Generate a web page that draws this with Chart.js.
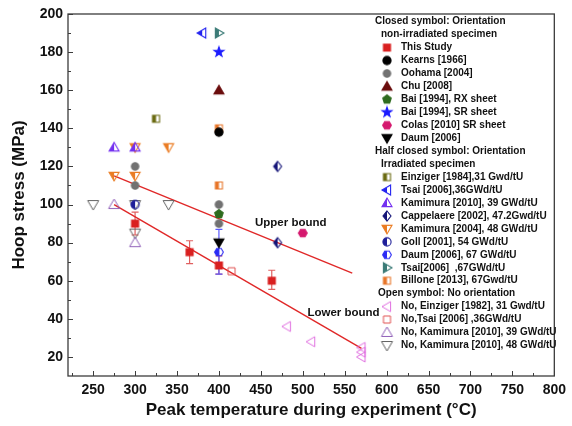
<!DOCTYPE html>
<html>
<head>
<meta charset="utf-8">
<script src="https://cdn.jsdelivr.net/npm/chart.js@4.4.1/dist/chart.umd.min.js"></script>
<style>
  html, body { margin: 0; padding: 0; background: #fff; }
  canvas { display: block; }
</style>
</head>
<body>
<canvas id="hoopChart" width="572" height="426"></canvas>
<script>
// ---- data: [peak temperature (C), hoop stress (MPa)] ----
const xTicks = [250, 300, 350, 400, 450, 500, 550, 600, 650, 700, 750, 800];
const yTicks = [20, 40, 60, 80, 100, 120, 140, 160, 180, 200];

// closed symbols, non-irradiated
const thisStudy = [[300, 90], [365, 75], [400, 68], [463, 60]];
const thisStudyErr = [[84, 96], [69, 81], [63.5, 73], [55.5, 65.5]];
const kearns = [[400, 138]];
const oohama = [[300, 120], [300, 110], [400, 100], [400, 90]];
const chu = [[400, 160]];
const baiRX = [[400, 95]];
const baiSR = [[400, 180]];
const colas = [[500, 85]];
const daum2006 = [[400, 80]];

// half closed symbols, irradiated
const einziger1984 = [[325, 145]];
const tsai36 = [[380, 190]];
const kamimura39 = [[275, 130], [300, 130]];
const cappelaere = [[470, 120], [470, 80]];
const kamimura48 = [[275, 115], [300, 115], [300, 130], [340, 130]];
const goll = [[300, 100]];
const daum67 = [[400, 75]];
const daum67Err = [[63.5, 87]];
const tsai67 = [[400, 190]];
const billone = [[400, 140], [400, 110]];

// open symbols, no orientation
const noEinziger = [[481, 36], [510, 28], [570, 25], [570, 22.5], [570, 20]];
const noTsai = [[415, 65]];
const noKamimura39 = [[275, 100], [300, 80]];
const noKamimura48 = [[250, 100], [300, 100], [340, 100], [300, 85]];

// bounds
const upperBound = [[275, 115], [559, 64]];
const lowerBound = [[275, 100], [570, 24.5]];
const boundLabels = [["Upper bound", 443, 90.5], ["Lower bound", 505.5, 43.2]];

/* -------------------------------
   MARKERS
--------------------------------*/

function shapePath(ctx, shape, cx, cy, r) {
    const poly = (n, start, rad) => {
        for (let i = 0; i < n; i++) {
            const a = start + i * 2 * Math.PI / n;
            const px = cx + rad * Math.cos(a), py = cy + rad * Math.sin(a);
            i ? ctx.lineTo(px, py) : ctx.moveTo(px, py);
        }
        ctx.closePath();
    };
    switch (shape) {
        case "square": ctx.rect(cx - r * 0.78, cy - r * 0.78, r * 1.56, r * 1.56); break;
        case "circle": ctx.arc(cx, cy, r * 0.82, 0, 2 * Math.PI); break;
        case "triUp": ctx.moveTo(cx, cy - r); ctx.lineTo(cx + r, cy + r * 0.72); ctx.lineTo(cx - r, cy + r * 0.72); ctx.closePath(); break;
        case "triDown": ctx.moveTo(cx, cy + r); ctx.lineTo(cx + r, cy - r * 0.72); ctx.lineTo(cx - r, cy - r * 0.72); ctx.closePath(); break;
        case "triLeft": ctx.moveTo(cx - r, cy); ctx.lineTo(cx + r * 0.72, cy - r); ctx.lineTo(cx + r * 0.72, cy + r); ctx.closePath(); break;
        case "triRight": ctx.moveTo(cx + r, cy); ctx.lineTo(cx - r * 0.72, cy - r); ctx.lineTo(cx - r * 0.72, cy + r); ctx.closePath(); break;
        case "diamond": ctx.moveTo(cx, cy - r); ctx.lineTo(cx + r * 0.8, cy); ctx.lineTo(cx, cy + r); ctx.lineTo(cx - r * 0.8, cy); ctx.closePath(); break;
        case "pentagon": poly(5, -Math.PI / 2, r * 0.9); break;
        case "hexagon": poly(6, 0, r * 0.88); break;
        case "star":
            for (let i = 0; i < 10; i++) {
                const a = -Math.PI / 2 + i * Math.PI / 5;
                const rad = i % 2 ? r * 0.42 : r * 1.05;
                const px = cx + rad * Math.cos(a), py = cy + rad * Math.sin(a);
                i ? ctx.lineTo(px, py) : ctx.moveTo(px, py);
            }
            ctx.closePath();
            break;
    }
}

function marker(shape, color, fill, size) {
    const c = document.createElement("canvas");
    c.width = c.height = size + 4;
    const ctx = c.getContext("2d");
    const cx = c.width / 2, cy = c.height / 2, r = size / 2;
    ctx.beginPath();
    shapePath(ctx, shape, cx, cy, r);
    if (fill === "full") {
        ctx.fillStyle = color;
        ctx.fill();
    } else if (fill === "half") {
        ctx.save();
        ctx.clip();
        ctx.fillStyle = color;
        ctx.fillRect(0, 0, cx, c.height);
        ctx.restore();
    }
    ctx.lineWidth = fill === "none" ? 1 : 1.1;
    ctx.strokeStyle = color;
    ctx.stroke();
    return c;
}

const series = [
    { label: "This Study", data: thisStudy, err: thisStudyErr, errColor: "#e06060", m: marker("square", "#d92020", "full", 9) },
    { label: "Kearns [1966]", data: kearns, m: marker("circle", "#000000", "full", 10) },
    { label: "Oohama [2004]", data: oohama, m: marker("circle", "#727272", "full", 9) },
    { label: "Chu [2008]", data: chu, m: marker("triUp", "#6a0c0c", "full", 10) },
    { label: "Bai [1994], RX sheet", data: baiRX, m: marker("pentagon", "#2e6b1e", "full", 10) },
    { label: "Bai [1994], SR sheet", data: baiSR, m: marker("star", "#1c1cff", "full", 10) },
    { label: "Colas [2010] SR sheet", data: colas, m: marker("hexagon", "#d5186e", "full", 10) },
    { label: "Daum [2006]", data: daum2006, m: marker("triDown", "#000000", "full", 10) },
    { label: "Einziger [1984],31 Gwd/tU", data: einziger1984, m: marker("square", "#6b6b12", "half", 9) },
    { label: "Tsai [2006],36GWd/tU", data: tsai36, m: marker("triLeft", "#2323f0", "half", 10) },
    { label: "Kamimura [2010], 39 GWd/tU", data: kamimura39, m: marker("triUp", "#7430f0", "half", 10) },
    { label: "Cappelaere [2002], 47.2Gwd/tU", data: cappelaere, m: marker("diamond", "#141478", "half", 10) },
    { label: "Kamimura [2004], 48 GWd/tU", data: kamimura48, m: marker("triDown", "#ea7d24", "half", 10) },
    { label: "Goll [2001], 54 GWd/tU", data: goll, m: marker("circle", "#1f1f99", "half", 10) },
    { label: "Daum [2006], 67 GWd/tU", data: daum67, err: daum67Err, errColor: "#5a5aff", m: marker("hexagon", "#2b2bf5", "half", 10) },
    { label: "Tsai[2006]  ,67GWd/tU", data: tsai67, m: marker("triRight", "#3b7b77", "half", 10) },
    { label: "Billone [2013], 67Gwd/tU", data: billone, m: marker("square", "#e8762a", "half", 9) },
    { label: "No, Einziger [1982], 31 Gwd/tU", data: noEinziger, m: marker("triLeft", "#e070e0", "none", 10) },
    { label: "No,Tsai [2006] ,36GWd/tU", data: noTsai, m: marker("square", "#e05050", "none", 9) },
    { label: "No, Kamimura [2010], 39 GWd/tU", data: noKamimura39, m: marker("triUp", "#9060b8", "none", 11) },
    { label: "No, Kamimura [2010], 48 GWd/tU", data: noKamimura48, m: marker("triDown", "#606060", "none", 11) }
];

const legendRows = [
    { head: "Closed symbol: Orientation", x: 375 },
    { head: "non-irradiated specimen", x: 381 },
    0, 1, 2, 3, 4, 5, 6, 7,
    { head: "Half closed symbol: Orientation", x: 375 },
    { head: "Irradiated specimen", x: 381 },
    8, 9, 10, 11, 12, 13, 14, 15, 16,
    { head: "Open symbol: No orientation", x: 378 },
    17, 18, 19, 20
];

const toXY = arr => arr.map(p => ({ x: p[0], y: p[1] }));

const datasets = series.map(s => ({
    label: s.label,
    data: toXY(s.data),
    pointStyle: s.m,
    pointRadius: 5,
    showLine: false,
    err: s.err,
    errColor: s.errColor
}));

[upperBound, lowerBound].forEach(b => {
    datasets.push({
        data: toXY(b),
        showLine: true,
        borderColor: "#e02828",
        borderWidth: 1.4,
        pointRadius: 0
    });
});

/* -------------------------------
   PLUGINS
--------------------------------*/

const errorBars = {
    id: "errorBars",
    beforeDatasetsDraw(chart) {
        const ctx = chart.ctx, xs = chart.scales.x, ys = chart.scales.y;
        chart.data.datasets.forEach(ds => {
            if (!ds.err) return;
            ctx.save();
            ctx.strokeStyle = ds.errColor;
            ctx.lineWidth = 1.2;
            ds.data.forEach((p, i) => {
                const px = xs.getPixelForValue(p.x);
                const lo = ys.getPixelForValue(ds.err[i][0]);
                const hi = ys.getPixelForValue(ds.err[i][1]);
                ctx.beginPath();
                ctx.moveTo(px, lo); ctx.lineTo(px, hi);
                ctx.moveTo(px - 3.5, lo); ctx.lineTo(px + 3.5, lo);
                ctx.moveTo(px - 3.5, hi); ctx.lineTo(px + 3.5, hi);
                ctx.stroke();
            });
            ctx.restore();
        });
    }
};

const frame = {
    id: "frame",
    afterDraw(chart) {
        const ctx = chart.ctx, a = chart.chartArea, xs = chart.scales.x, ys = chart.scales.y;
        ctx.save();
        ctx.strokeStyle = "#3c3c3c";
        ctx.lineWidth = 1.3;
        ctx.strokeRect(a.left, a.top, a.right - a.left, a.bottom - a.top);
        ctx.lineWidth = 1;
        ctx.beginPath();
        for (let v = 225; v <= 800; v += 25) {
            const px = Math.round(xs.getPixelForValue(v)) + 0.5;
            const len = v % 50 === 0 ? 5 : 3;
            ctx.moveTo(px, a.bottom); ctx.lineTo(px, a.bottom - len);
        }
        for (let v = 20; v <= 200; v += 10) {
            const py = Math.round(ys.getPixelForValue(v)) + 0.5;
            const len = v % 20 === 0 ? 5 : 3;
            ctx.moveTo(a.left, py); ctx.lineTo(a.left + len, py);
        }
        ctx.stroke();

        // bound labels
        ctx.fillStyle = "#111";
        ctx.font = "bold 11.5px Arial, 'Liberation Sans'";
        ctx.textBaseline = "middle";
        boundLabels.forEach(l => {
            ctx.fillText(l[0], xs.getPixelForValue(l[1]), ys.getPixelForValue(l[2]));
        });

        // legend
        ctx.font = "bold 10px Arial, 'Liberation Sans'";
        legendRows.forEach((row, i) => {
            const y = 21.7 + i * 12.95;
            if (typeof row === "number") {
                const img = series[row].m;
                ctx.drawImage(img, 387 - img.width / 2, y - img.height / 2);
                ctx.fillText(series[row].label, 401, y);
            } else {
                ctx.fillText(row.head, row.x, y);
            }
        });
        ctx.restore();
    }
};

/* -------------------------------
   CHART
--------------------------------*/

new Chart(document.getElementById("hoopChart"), {
    type: "scatter",
    data: { datasets },
    options: {
        responsive: false,
        animation: false,
        events: [],
        layout: { padding: { top: 14, right: 12, left: 0, bottom: 0 } },
        plugins: { legend: { display: false }, tooltip: { enabled: false } },
        scales: {
            x: {
                type: "linear",
                min: 220,
                max: 800,
                afterBuildTicks: s => { s.ticks = xTicks.map(v => ({ value: v })); },
                afterFit: s => { s.height = 50; },
                grid: { display: false, drawTicks: false },
                border: { display: false },
                ticks: { color: "#111", padding: 6, font: { family: "Arial", size: 14, weight: "bold" } },
                title: {
                    display: true,
                    text: "Peak temperature during experiment (\u00B0C)",
                    color: "#111",
                    padding: { bottom: 5 },
                    font: { family: "Arial", size: 17, weight: "bold" }
                }
            },
            y: {
                type: "linear",
                min: 10,
                max: 200,
                afterBuildTicks: s => { s.ticks = yTicks.map(v => ({ value: v })); },
                afterFit: s => { s.width = 68; },
                grid: { display: false, drawTicks: false },
                border: { display: false },
                ticks: { color: "#111", padding: 5, font: { family: "Arial", size: 14, weight: "bold" } },
                title: {
                    display: true,
                    text: "Hoop stress (MPa)",
                    color: "#111",
                    padding: { top: 9 },
                    font: { family: "Arial", size: 17, weight: "bold" }
                }
            }
        }
    },
    plugins: [errorBars, frame]
});
</script>
</body>
</html>
